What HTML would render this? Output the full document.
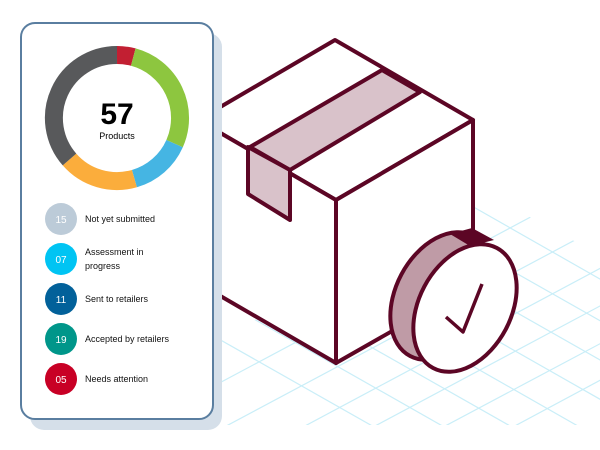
<!DOCTYPE html>
<html><head><style>
html,body{margin:0;width:600px;height:450px;background:#fff;overflow:hidden;font-family:"Liberation Sans",sans-serif}
</style></head><body>
<svg width="600" height="450" viewBox="0 0 600 450" style="position:absolute;left:0;top:0;display:block">
<defs><clipPath id="gc"><polygon points="220,340 480,190 600,255 600,425 220,425"/></clipPath></defs>
<g clip-path="url(#gc)" stroke="#c9eef8" stroke-width="1.2">
<line x1="150" y1="300" x2="450" y2="470"/><line x1="150" y1="260" x2="520" y2="470"/>
<line x1="200" y1="250" x2="600" y2="477"/><line x1="260" y1="245" x2="620" y2="450"/>
<line x1="320" y1="240" x2="640" y2="422"/><line x1="380" y1="235" x2="660" y2="394"/>
<line x1="440" y1="230" x2="680" y2="366"/><line x1="470" y1="205" x2="700" y2="336"/>
<line x1="150" y1="420" x2="600" y2="180"/><line x1="200" y1="440" x2="650" y2="200"/>
<line x1="260" y1="450" x2="700" y2="215"/><line x1="330" y1="450" x2="720" y2="242"/>
<line x1="400" y1="450" x2="720" y2="280"/><line x1="470" y1="450" x2="720" y2="316"/>
</g>
<g stroke="#5c0625" stroke-width="4" stroke-linejoin="round" fill="none">
<polygon points="335,40 473,120 336,200 198,120" fill="#fff"/>
<polygon points="198,120 336,200 336,363 198,283" fill="#fff"/>
<polygon points="336,200 473,120 473,285 336,363" fill="#fff"/>
<polygon points="250,147 382,70 420,92 290,170" fill="#d9c2ca"/>
<polygon points="248,147 290,170 290,220 248,194" fill="#d9c2ca"/>
<ellipse cx="442" cy="296" rx="46" ry="68" transform="rotate(28 442 296)" fill="#bf9ba6"/>
<path d="M450,234 L472,228 L494,240 L470,246 Z" fill="#5c0625" stroke="none"/>
<ellipse cx="465" cy="308" rx="46" ry="68" transform="rotate(28 465 308)" fill="#fff"/>
<polyline points="446,317 463,332 482,284" stroke-width="3.5"/>
</g>
<rect x="30" y="33" width="192" height="397" rx="14" fill="#d5dfe9"/>
<rect x="21" y="23" width="192" height="396" rx="14" fill="#fff" stroke="#5a7ea0" stroke-width="2"/>
<g fill="none" stroke-width="18">
<path d="M117,55 A63,63 0 0 1 133.3,57.1" stroke="#c21f32"/>
<path d="M133.3,57.1 A63,63 0 0 1 174.6,143.6" stroke="#8dc63f"/>
<path d="M174.6,143.6 A63,63 0 0 1 134.4,178.6" stroke="#45b5e3"/>
<path d="M134.4,178.6 A63,63 0 0 1 69.5,159.5" stroke="#fbad3c"/>
<path d="M69.5,159.5 A63,63 0 0 1 117,55" stroke="#58595b"/>
</g>
<text x="117" y="124" text-anchor="middle" font-size="30" font-weight="bold" fill="#000">57</text>
<text x="117" y="139" text-anchor="middle" font-size="9" fill="#000">Products</text>
<g font-size="10" fill="#fff" text-anchor="middle">
<circle cx="61" cy="219" r="16" fill="#bccbd8"/><text x="61" y="223">15</text>
<circle cx="61" cy="259" r="16" fill="#00c4f3"/><text x="61" y="263">07</text>
<circle cx="61" cy="299" r="16" fill="#02619a"/><text x="61" y="303">11</text>
<circle cx="61" cy="339" r="16" fill="#00968a"/><text x="61" y="343">19</text>
<circle cx="61" cy="379" r="16" fill="#c80025"/><text x="61" y="383">05</text>
</g>
<g font-size="9" fill="#111">
<text x="85" y="222">Not yet submitted</text>
<text x="85" y="255">Assessment in</text><text x="85" y="269">progress</text>
<text x="85" y="302">Sent to retailers</text>
<text x="85" y="342">Accepted by retailers</text>
<text x="85" y="382">Needs attention</text>
</g>
</svg>
</body></html>
